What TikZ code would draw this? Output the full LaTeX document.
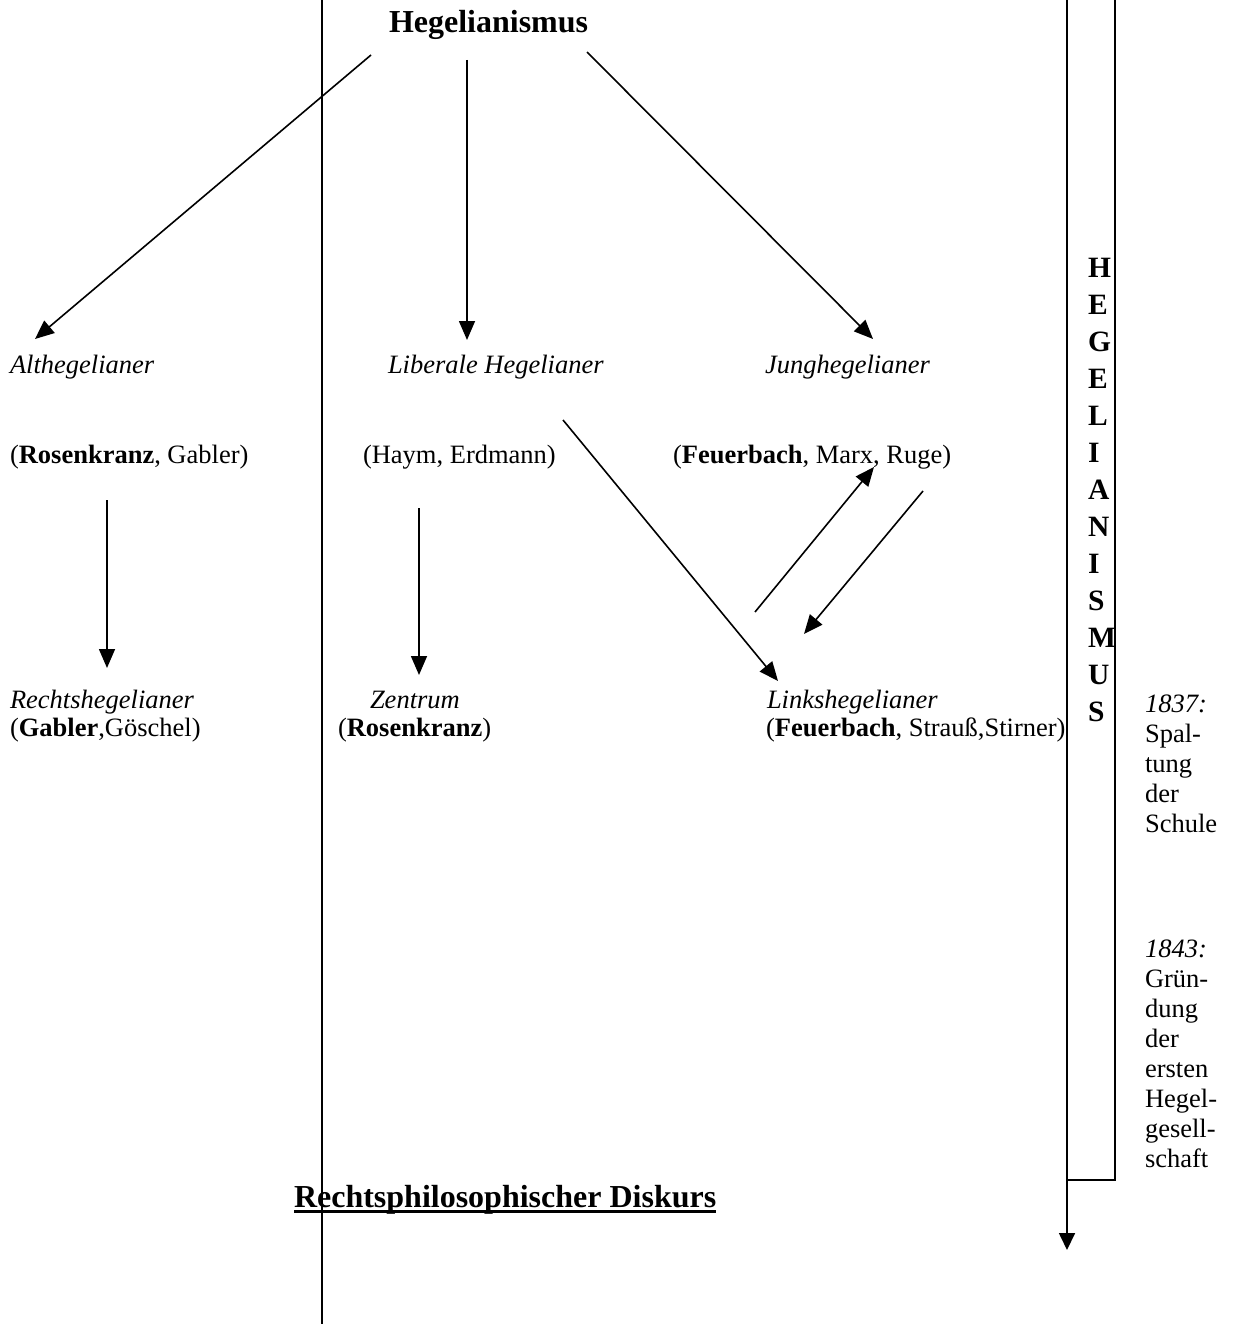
\documentclass[tikz,border=0pt]{standalone}
\usepackage{fontspec}
\setmainfont{Liberation Serif}
\usetikzlibrary{arrows.meta}
\begin{document}
\begin{tikzpicture}[x=1pt,y=-1pt,
  every node/.style={inner sep=0pt,outer sep=0pt,anchor=base west},
  txt/.style={font=\fontsize{26.5}{30}\selectfont},
  itxt/.style={font=\fontsize{26.5}{30}\selectfont\itshape},
  head/.style={font=\fontsize{32}{38}\selectfont\bfseries},
  vlet/.style={font=\fontsize{29.5}{37}\selectfont\bfseries},
  arr/.style={line width=1.6pt,-{Triangle[length=19pt,width=16pt]}},
  rule/.style={line width=1.7pt}]
\useasboundingbox (0,0) rectangle (1232,1324);
% frame lines
\coordinate (vl1) at (322,0);
\coordinate (vl2) at (322,1324);
\draw[rule] (vl1) -- (vl2);
\coordinate (bx1) at (1115,0);
\coordinate (bx2) at (1115,1180);
\coordinate (bx3) at (1067,1180);
\coordinate (bx4) at (1067,0);
\coordinate (bx5) at (1067,1250);
\draw[rule] (bx1) -- (bx2) -- (bx3);
\draw[rule,-{Triangle[length=17pt,width=16pt]}] (bx4) -- (bx5);
% texts
\node[head] (heg) at (389,33) {Hegelianismus};
\node[itxt] (alt) at (10,373) {Althegelianer};
\node[itxt] (lib) at (388,373) {Liberale Hegelianer};
\node[itxt] (jung) at (765,373) {Junghegelianer};
\node[txt] (altn) at (10,463) {(\textbf{Rosenkranz}, Gabler)};
\node[txt] (libn) at (363,463) {(Haym, Erdmann)};
\node[txt] (jungn) at (673,463) {(\textbf{Feuerbach}, Marx, Ruge)};
\node[itxt] (rechts) at (10,708) {Rechtshegelianer};
\node[txt] (rechtsn) at (10,736) {(\textbf{Gabler},Göschel)};
\node[itxt] (zen) at (370,708) {Zentrum};
\node[txt] (zenn) at (338,736) {(\textbf{Rosenkranz})};
\node[itxt] (links) at (767,708) {Linkshegelianer};
\node[txt] (linksn) at (766,736) {(\textbf{Feuerbach}, Strauß,Stirner)};
\node[head] (disk) at (294,1207) {Rechtsphilosophischer Diskurs};
\draw[line width=3pt] ([yshift=-4pt]disk.base west) -- ([yshift=-4pt]disk.base east);
% vertical word
\foreach \l [count=\i from 0] in {H,E,G,E,L,I,A,N,I,S,M,U,S}
  \node[vlet] (v\i) at (1088,277+37*\i) {\l};
% right column notes
\foreach \t [count=\i from 0] in {\textit{1837:},Spal-,tung,der,Schule}
  \node[txt] (a\i) at (1145,712+30*\i) {\t};
\foreach \t [count=\i from 0] in {\textit{1843:},Grün-,dung,der,ersten,Hegel-,gesell-,schaft}
  \node[txt] (b\i) at (1145,957+30*\i) {\t};
% arrows
\draw[arr] ([shift={(-18,22)}]heg.base west) -- ([shift={(25,-34)}]alt.base west);
\draw[arr] ([shift={(78,27)}]heg.base west) -- ([shift={(79,-33)}]lib.base west);
\draw[arr] ([shift={(198,19)}]heg.base west) -- ([shift={(108,-34)}]jung.base west);
\draw[arr] ([shift={(97,37)}]altn.base west) -- ([shift={(97,-40)}]rechts.base west);
\draw[arr] ([shift={(56,45)}]libn.base west) -- ([shift={(49,-33)}]zen.base west);
\draw[arr] ([shift={(175,47)}]lib.base west) -- ([shift={(11,-27)}]links.base west);
\draw[arr] ([shift={(-12,-96)}]links.base west) -- ([shift={(201,4)}]jungn.base west);
\draw[arr] ([shift={(250,28)}]jungn.base west) -- ([shift={(37,-74)}]links.base west);
\end{tikzpicture}
\end{document}
